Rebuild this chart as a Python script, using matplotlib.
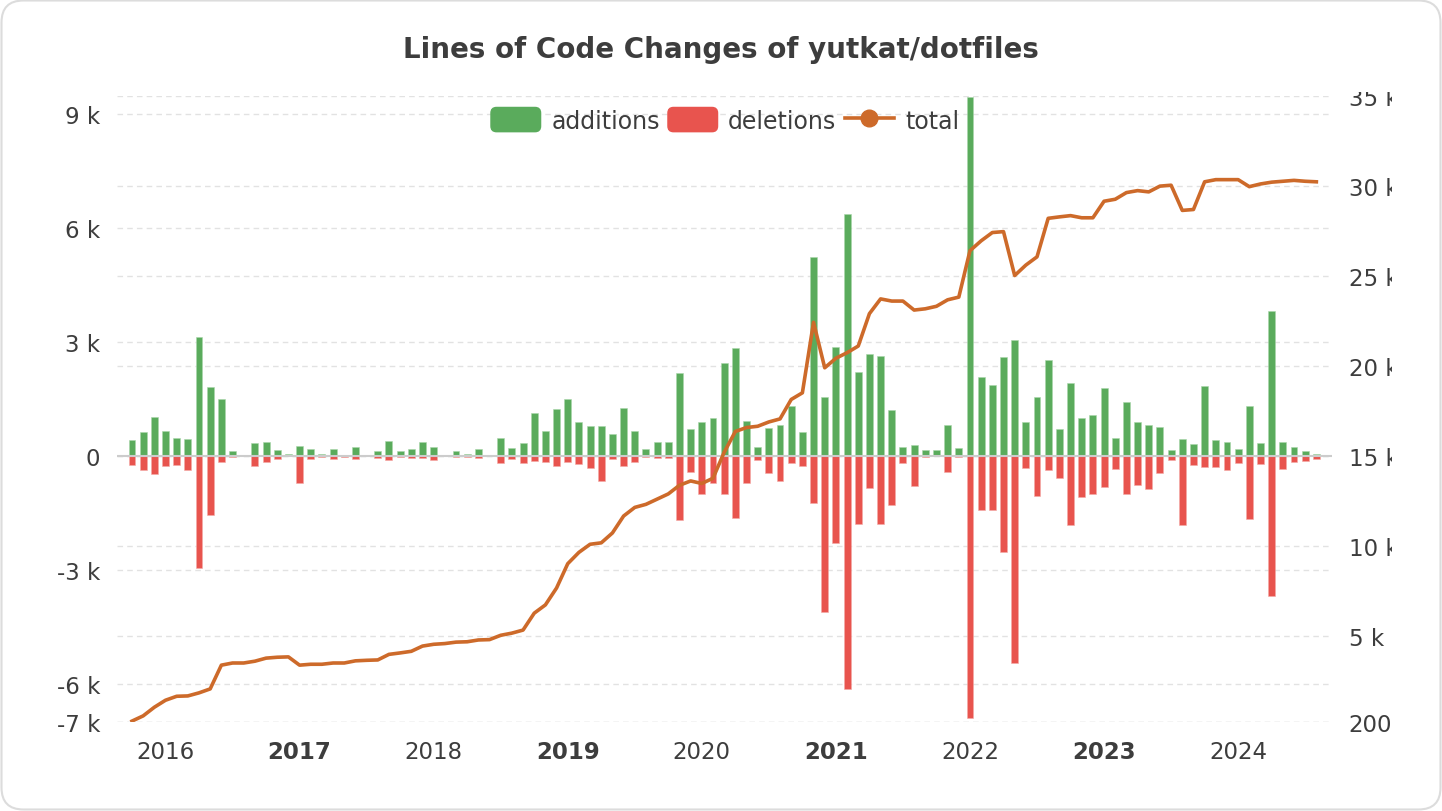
import numpy as np
import matplotlib
matplotlib.use("Agg")
import matplotlib.pyplot as plt
import matplotlib.patches as mpatches
from matplotlib.lines import Line2D
from matplotlib.legend_handler import HandlerPatch
from matplotlib.transforms import Bbox, IdentityTransform

# monthly data, Oct 2015 .. Aug 2024
start_year, start_month = 2015, 10

additions = [
    420, 640, 1030, 660, 480, 440, 3140, 1810, 1500, 140, 20, 340, 360, 150, 50,
    270, 180, 50, 180, 30, 240, 10, 130, 400, 130, 180, 360,
    230, 10, 130, 50, 180, 30, 470, 220, 340, 1130, 650, 1230,
    1500, 890, 790, 790, 590, 1270, 660, 180, 380, 380, 2190, 710,
    900, 1000, 2440, 2840, 910, 230, 730, 820, 1320, 640, 5230, 1550,
    2860, 6370, 2200, 2680, 2620, 1200, 230, 300, 150, 160, 810, 210,
    9450, 2080, 1870, 2600, 3060, 900, 1540, 2520, 710, 1930, 990, 1080,
    1790, 470, 1410, 890, 820, 760, 150, 450, 310, 1830, 430, 380,
    190, 1310, 340, 3820, 380, 240, 120, 50,
]
deletions = [
    240, 360, 480, 250, 240, 380, 2950, 1550, 170, 20, 10, 250, 150, 80, 10,
    710, 80, 30, 80, 30, 90, 10, 60, 110, 30, 50, 60,
    110, 10, 30, 20, 50, 10, 190, 70, 190, 130, 150, 250,
    170, 220, 320, 670, 80, 250, 160, 20, 60, 60, 1690, 410,
    990, 700, 1000, 1620, 700, 100, 440, 650, 180, 250, 1230, 4100,
    2280, 6120, 1800, 840, 1790, 1300, 180, 790, 30, 10, 410, 30,
    6890, 1410, 1410, 2520, 5450, 310, 1060, 380, 570, 1820, 1090, 1010,
    810, 350, 1000, 770, 860, 440, 100, 1810, 230, 300, 280, 360,
    190, 1670, 200, 3690, 350, 170, 140, 70,
]
total = [
    250, 540, 1020, 1410, 1630, 1650, 1820, 2040, 3360, 3480, 3480, 3580, 3750, 3800, 3820,
    3360, 3410, 3410, 3480, 3480, 3600, 3630, 3650, 3960, 4040, 4130, 4420,
    4520, 4560, 4640, 4660, 4760, 4780, 5020, 5140, 5310, 6250, 6710, 7650,
    9000, 9630, 10080, 10160, 10710, 11650, 12130, 12300, 12590, 12880, 13360, 13600,
    13460, 13750, 15190, 16350, 16570, 16640, 16880, 17050, 18130, 18500, 22420, 19890,
    20420, 20730, 21100, 22900, 23720, 23600, 23600, 23100, 23170, 23310, 23670, 23820,
    26400, 26950, 27410, 27460, 25020, 25600, 26060, 28200, 28280, 28350, 28230, 28230,
    29150, 29260, 29630, 29740, 29670, 29990, 30040, 28640, 28690, 30230, 30350, 30350,
    30350, 29960, 30110, 30210, 30260, 30310, 30260, 30230,
]
years = [2016, 2017, 2018, 2019, 2020, 2021, 2022, 2023, 2024]

left_ticks = [-7000, -6000, -3000, 0, 3000, 6000, 9000]
right_ticks = [200, 5000, 10000, 15000, 20000, 25000, 30000, 35000]

GREEN = "#5aab5c"
RED = "#e8544e"
ORANGE = "#cd6a2a"
TEXT = "#3d3d3d"
GRID = "#e2e2e2"

W, H = 1442, 812
fig = plt.figure(figsize=(W / 100, H / 100), dpi=100)
ax = fig.add_axes([117 / W, 1 - 723 / H, (1332 - 117) / W, (723 - 97) / H])
ax2 = ax.twinx()

x = np.arange(len(additions))
add = np.array(additions)
dele = -np.array(deletions)

ylim_l = (-7000, 9474)
ylim_r = (200, 35000)


def right_to_left(v):
    f = (v - ylim_r[0]) / (ylim_r[1] - ylim_r[0])
    return ylim_l[0] + f * (ylim_l[1] - ylim_l[0])


# grid lines for both axes, drawn behind the bars
for t in left_ticks:
    ax.axhline(t, color=GRID, lw=1, ls=(0, (4, 3)), zorder=0)
for t in right_ticks:
    ax.axhline(right_to_left(t), color=GRID, lw=1, ls=(0, (4, 3)), zorder=0)

ax.bar(x, add, width=0.62, color=GREEN, edgecolor="#a9d6aa", linewidth=0.4, zorder=2)
ax.bar(x, dele, width=0.62, color=RED, edgecolor="#f3aaa6", linewidth=0.4, zorder=2)
ax.axhline(0, color="#cccccc", lw=1.5, zorder=3)

ax2.plot(x, total, color=ORANGE, lw=2.6, solid_joinstyle="round", zorder=4)

ax.set_xlim(-1.34, 107.4)
ax.set_ylim(*ylim_l)
ax2.set_ylim(*ylim_r)

ax.set_yticks(left_ticks)
ax.set_yticklabels([("%d k" % (t // 1000)) if t != 0 else "0" for t in left_ticks])
ax2.set_yticks(right_ticks)
ax2.set_yticklabels([("%d k" % (t // 1000)) if t >= 1000 else str(t) for t in right_ticks])

jan_pos = [(y - start_year) * 12 + (1 - start_month) for y in years]
ax.set_xticks(jan_pos)
ax.set_xticklabels([str(y) for y in years])
for lbl, y in zip(ax.get_xticklabels(), years):
    if y % 2 == 1:
        lbl.set_fontweight("bold")

for a in (ax, ax2):
    for s in a.spines.values():
        s.set_visible(False)
    a.tick_params(length=0, labelsize=16.5, colors=TEXT)
ax.tick_params(axis="y", pad=12)
ax2.tick_params(axis="y", pad=12)
ax.tick_params(axis="x", pad=13)
ax.set_zorder(1)
ax2.set_zorder(2)
ax2.patch.set_visible(False)

# right labels are cut off at the edge of the chart area
clip = Bbox.from_extents(0, 0, 1392, H - 93)
for lbl in ax2.get_yticklabels():
    lbl.set_clip_on(True)
    lbl.set_clip_box(clip)

fig.text(0.5, 1 - 50 / H, "Lines of Code Changes of yutkat/dotfiles",
         ha="center", va="center", fontsize=20, fontweight="bold", color=TEXT)


def rounded_patch(legend, orig_handle, xdescent, ydescent, width, height, fontsize):
    return mpatches.FancyBboxPatch((-xdescent, -ydescent), width, height,
                                   boxstyle="round,pad=0,rounding_size=4",
                                   mutation_aspect=1)


handles = [
    mpatches.Patch(color=GREEN, label="additions"),
    mpatches.Patch(color=RED, label="deletions"),
    Line2D([], [], color=ORANGE, lw=2.6, marker="o", markersize=12, label="total"),
]
leg = fig.legend(handles=handles, loc="center", bbox_to_anchor=(725 / W, 1 - 121 / H),
                 ncol=3, frameon=False, fontsize=17, handlelength=2.1, handleheight=1.2,
                 handletextpad=0.45, columnspacing=0.35,
                 handler_map={mpatches.Patch: HandlerPatch(patch_func=rounded_patch)})
for t in leg.get_texts():
    t.set_color(TEXT)

border = mpatches.FancyBboxPatch((1.5, 1.5), W - 3, H - 3,
                                 boxstyle="round,pad=0,rounding_size=22",
                                 transform=IdentityTransform(), fill=False,
                                 ec="#dcdcdc", lw=1.5)
fig.patches.append(border)

fig.savefig("out.png", dpi=100)
